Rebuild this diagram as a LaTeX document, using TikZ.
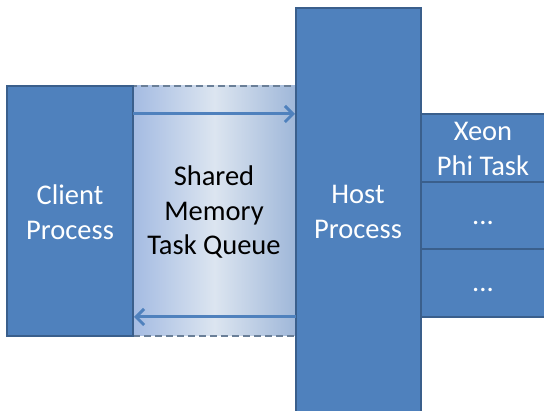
\documentclass[tikz,border=0pt]{standalone}
\usepackage{fontspec}
\setmainfont{Carlito}
\usetikzlibrary{arrows.meta}
\definecolor{boxfill}{HTML}{4F81BD}
\definecolor{boxline}{HTML}{3A5F8C}
\definecolor{shleft}{HTML}{A4BBE2}
\definecolor{shmid}{HTML}{DCE5F0}
\definecolor{shright}{HTML}{9FB7D9}
\definecolor{dashcol}{HTML}{6A7F98}
\tikzset{
  lbl/.style={text=white, align=center, inner sep=0pt, font=\fontsize{28.5}{34.5}\selectfont},
  box/.style={rectangle, draw=boxline, line width=2pt, fill=boxfill, text=white,
    align=center, outer sep=0pt, inner sep=0pt, anchor=north west,
    font=\fontsize{28.5}{34.5}\selectfont},
  shared/.style={rectangle, draw=dashcol, dashed, dash pattern=on 7pt off 4pt, line width=2pt,
    left color=shleft, right color=shright, middle color=shmid,
    align=center, outer sep=0pt, inner sep=0pt, anchor=north west,
    font=\fontsize{28.5}{34.5}\selectfont},
  flow/.style={draw=boxfill, line width=3pt, -{Straight Barb[length=8pt,width=16pt,line width=3pt]}}
}
\begin{document}
\begin{tikzpicture}[x=1pt,y=-1pt]
\useasboundingbox (0,0) rectangle (544,411);
\clip (0,0) rectangle (544,411);
\node[shared, minimum width=163pt, minimum height=250pt] (shm) at (133,86) {};
\node[lbl, text=black] (shmlabel) at (214,212) {Shared\\Memory\\Task Queue};
\node[box, minimum width=126pt, minimum height=250pt] (client) at (7,86) {};
\node[lbl] (clientlabel) at (70,212) {Client\\Process};
\node[box, minimum width=125pt, minimum height=430pt] (host) at (296,8) {};
\node[lbl] (hostlabel) at (358,212) {Host\\Process};
\node[box, minimum width=140pt, minimum height=68pt] (t1) at (421,114) {};
\node[box, minimum width=140pt, minimum height=67pt] (t2) at (421,182) {};
\node[box, minimum width=140pt, minimum height=68pt] (t3) at (421,249) {};
\node[lbl] (t1label) at (483,149) {Xeon\\Phi Task};
\node[lbl, anchor=base] (d2) at (483,225) {...};
\node[lbl, anchor=base] (d3) at (483,292) {...};
\draw[flow] (client.east |- t1.north) -- ([xshift=-1pt]host.west |- t1.north);
\draw[flow] (host.west |- t3.south) -- ([xshift=1pt]client.east |- t3.south);
\end{tikzpicture}
\end{document}
